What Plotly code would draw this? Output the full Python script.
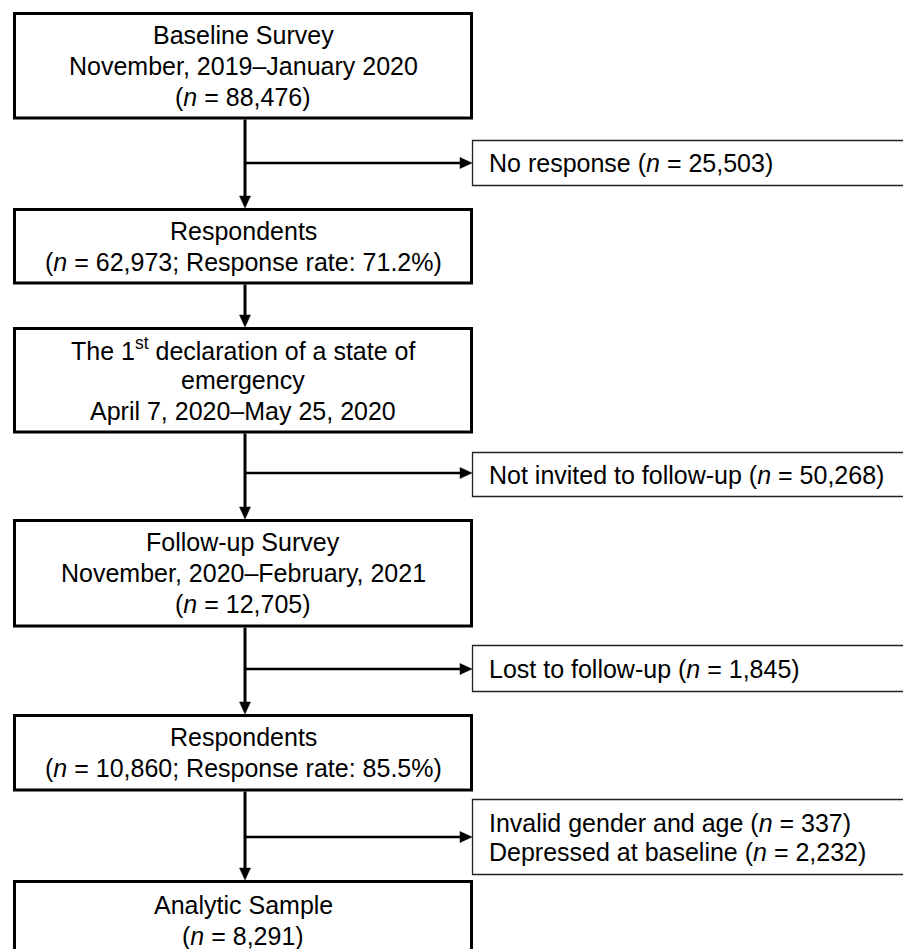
import plotly.graph_objects as go

# ---------------- data ----------------
main_titles = [
    ["Baseline Survey", "November, 2019–January 2020"],
    ["Respondents"],
    ["The 1<sup>st</sup> declaration of a state of", "emergency", "April 7, 2020–May 25, 2020"],
    ["Follow-up Survey", "November, 2020–February, 2021"],
    ["Respondents"],
    ["Analytic Sample"],
]
main_n = [88476, 62973, None, 12705, 10860, 8291]
main_rate = [None, 71.2, None, None, 85.5, None]

side_labels = [
    ["No response"],
    ["Not invited to follow-up"],
    ["Lost to follow-up"],
    ["Invalid gender and age", "Depressed at baseline"],
]
side_n = [
    [25503],
    [50268],
    [1845],
    [337, 2232],
]

# ---------------- layout (page pixel positions, y down) ----------------
PAGE_W, PAGE_H = 903, 949
MAIN_X0, MAIN_X1 = 14.5, 471.5
main_y = [(13.5, 118), (209.5, 283), (328.5, 432), (520.5, 626), (715.5, 790), (881.5, 990)]
SIDE_X0, SIDE_X1 = 472.5, 930
side_y = [(140.5, 185.5), (452.5, 496.5), (645.5, 691.5), (799.5, 874.5)]
side_arrow_y = [163, 473, 669, 837]
SPINE_X = 245
LINE_H = 31
SIDE_LINE_H = 29
FONT = "Liberation Sans, Arial, sans-serif"
FS = 25


def fmt(v):
    return f"{v:,}"


def main_lines(i):
    lines = list(main_titles[i])
    if main_n[i] is not None:
        if main_rate[i] is not None:
            lines.append(f"(<i>n</i> = {fmt(main_n[i])}; Response rate: {main_rate[i]}%)")
        else:
            lines.append(f"(<i>n</i> = {fmt(main_n[i])})")
    return lines


def side_lines(j):
    return [f"{lab} (<i>n</i> = {fmt(v)})" for lab, v in zip(side_labels[j], side_n[j])]


fig = go.Figure()
shapes = []
annotations = []

# main boxes
for i, (y0, y1) in enumerate(main_y):
    shapes.append(dict(type="rect", x0=MAIN_X0, x1=MAIN_X1, y0=y0, y1=y1,
                       line=dict(color="black", width=3), fillcolor="white", layer="above"))
    lines = main_lines(i)
    cy = (y0 + y1) / 2 if i < len(main_y) - 1 else 920
    start = cy - (len(lines) - 1) * LINE_H / 2
    for k, t in enumerate(lines):
        annotations.append(dict(x=(MAIN_X0 + MAIN_X1) / 2, y=start + k * LINE_H, text=t,
                                showarrow=False, xanchor="center", yanchor="middle",
                                font=dict(family=FONT, size=FS, color="black")))

# side boxes
for j, (y0, y1) in enumerate(side_y):
    shapes.append(dict(type="rect", x0=SIDE_X0, x1=SIDE_X1, y0=y0, y1=y1,
                       line=dict(color="#222222", width=1.3), fillcolor="white", layer="above"))
    lines = side_lines(j)
    cy = (y0 + y1) / 2
    start = cy - (len(lines) - 1) * SIDE_LINE_H / 2
    for k, t in enumerate(lines):
        annotations.append(dict(x=487, y=start + k * SIDE_LINE_H, text=t,
                                showarrow=False, xanchor="left", yanchor="middle",
                                font=dict(family=FONT, size=FS, color="black")))

# vertical connectors with arrowheads
AH_L, AH_W = 12, 11
for i in range(len(main_y) - 1):
    ya = main_y[i][1] + 1.5
    yb = main_y[i + 1][0] - 1.5
    shapes.append(dict(type="line", x0=SPINE_X, x1=SPINE_X, y0=ya, y1=yb - AH_L + 1,
                       line=dict(color="black", width=3), layer="below"))
    shapes.append(dict(type="path",
                       path=f"M {SPINE_X - AH_W/2},{yb - AH_L} L {SPINE_X + AH_W/2},{yb - AH_L} L {SPINE_X},{yb} Z",
                       fillcolor="black", line=dict(color="black", width=0.5)))

# side branches
for j, ay in enumerate(side_arrow_y):
    tip = SIDE_X0 - 0.5
    shapes.append(dict(type="line", x0=SPINE_X, x1=tip - AH_L + 1, y0=ay, y1=ay,
                       line=dict(color="black", width=2.6), layer="below"))
    shapes.append(dict(type="path",
                       path=f"M {tip - AH_L},{ay - AH_W/2} L {tip - AH_L},{ay + AH_W/2} L {tip},{ay} Z",
                       fillcolor="black", line=dict(color="black", width=0.5)))

fig.update_layout(
    width=PAGE_W, height=PAGE_H,
    margin=dict(l=0, r=0, t=0, b=0),
    paper_bgcolor="white", plot_bgcolor="white",
    xaxis=dict(range=[0, PAGE_W], visible=False, fixedrange=True),
    yaxis=dict(range=[PAGE_H, 0], visible=False, fixedrange=True),
    shapes=shapes, annotations=annotations,
    showlegend=False,
)
fig.write_html(
    "out.html",
    config=dict(displayModeBar=False),
    post_script="document.body.style.margin='0';document.body.style.overflow='hidden';",
)
